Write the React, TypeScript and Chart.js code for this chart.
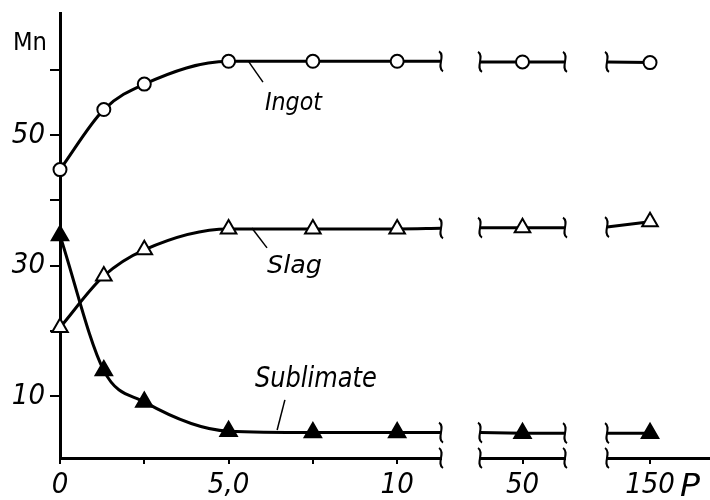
import React, { useEffect, useRef } from 'react';
import { Chart, registerables } from 'chart.js';

Chart.register(...registerables);

// ---- data ----
const P_SEG1 = [0, 1.3, 2.5, 5, 7.5, 10];
const P_SEG2 = [50];
const P_SEG3 = [150];

const INGOT_SEG1 = [44.7, 53.9, 57.8, 61.3, 61.3, 61.3];
const INGOT_SEG2 = [61.2];
const INGOT_SEG3 = [61.1];
const SLAG_SEG1 = [20.5, 28.4, 32.4, 35.6, 35.6, 35.6];
const SLAG_SEG2 = [35.8];
const SLAG_SEG3 = [36.7];
const SUBL_SEG1 = [34.6, 13.9, 9.1, 4.6, 4.4, 4.4];
const SUBL_SEG2 = [4.3];
const SUBL_SEG3 = [4.3];

// curve level where each curve meets the axis breaks: [seg1 end, seg2 start, seg2 end, seg3 start]
const INGOT_BREAKS = [61.3, 61.2, 61.2, 61.2];
const SLAG_BREAKS = [35.7, 35.8, 35.8, 35.9];
const SUBL_BREAKS = [4.4, 4.4, 4.3, 4.3];

// broken x axis: visible value range of each segment
const SEG1_RANGE = [0, 11.3];
const SEG2_RANGE = [43, 57];
const SEG3_RANGE = [143.4, 159.2];

const X1_TICKS = [0, 2.5, 5, 7.5, 10];
const X1_LABELS = ['0', '', '5,0', '', '10'];
const X2_TICKS = [50];
const X2_LABELS = ['50'];
const X3_TICKS = [150];
const X3_LABELS = ['150'];
const Y_TICKS = [10, 20, 30, 40, 50, 60];
const Y_LABELS = ['10', '', '30', '', '50', ''];
const Y_RANGE = [0.5, 68.7];

const FONT = "'Liberation Sans Narrow', 'DejaVu Sans Condensed', 'Liberation Sans', sans-serif";
const INK = '#000';

const SERIES = [
  { name: 'Ingot', s1: INGOT_SEG1, s2: INGOT_SEG2, s3: INGOT_SEG3, br: INGOT_BREAKS, style: 'circle', fill: '#fff', r: 6.5 },
  { name: 'Slag', s1: SLAG_SEG1, s2: SLAG_SEG2, s3: SLAG_SEG3, br: SLAG_BREAKS, style: 'triangle', fill: '#fff', r: 9 },
  { name: 'Sublimate', s1: SUBL_SEG1, s2: SUBL_SEG2, s3: SUBL_SEG3, br: SUBL_BREAKS, style: 'triangle', fill: '#000', r: 9.5 },
];

// annotation labels in data units of x1 / y
const NOTES = [
  { text: 'Ingot', x: 6.08, y: 53.8, w: 57, size: 25, from: [5.6, 61.2], to: [6.02, 58.1] },
  { text: 'Slag', x: 6.14, y: 28.85, w: 55, size: 25, from: [5.69, 35.75], to: [6.14, 32.7] },
  { text: 'Sublimate', x: 5.78, y: 11.4, w: 122, size: 28, from: [6.44, 4.8], to: [6.67, 9.4] },
];

function fitText(ctx: CanvasRenderingContext2D, text: string, x: number, base: number, w: number, font: string) {
  ctx.save();
  ctx.font = font;
  ctx.textBaseline = 'alphabetic';
  ctx.textAlign = 'left';
  const m = ctx.measureText(text).width;
  ctx.translate(x, base);
  ctx.scale(w / m, 1);
  ctx.fillStyle = INK;
  ctx.fillText(text, 0, 0);
  ctx.restore();
}

function squiggle(ctx: CanvasRenderingContext2D, x: number, y: number) {
  ctx.save();
  ctx.strokeStyle = INK;
  ctx.lineWidth = 2;
  ctx.beginPath();
  ctx.moveTo(x - 2, y - 10);
  ctx.bezierCurveTo(x + 5, y - 6, x - 5, y + 6, x + 2, y + 10);
  ctx.stroke();
  ctx.restore();
}

const decorPlugin = {
  id: 'decor',
  afterDraw(chart: any) {
    const ctx = chart.ctx as CanvasRenderingContext2D;
    const { x1, x2, x3, y } = chart.scales;
    const area = chart.chartArea;
    const breakX = [
      x1.getPixelForValue(SEG1_RANGE[1]),
      x2.getPixelForValue(SEG2_RANGE[0]),
      x2.getPixelForValue(SEG2_RANGE[1]),
      x3.getPixelForValue(SEG3_RANGE[0]),
    ];
    SERIES.forEach((s) => {
      s.br.forEach((v, i) => squiggle(ctx, breakX[i], y.getPixelForValue(v)));
    });
    breakX.forEach((bx) => squiggle(ctx, bx, area.bottom));

    NOTES.forEach((n) => {
      ctx.save();
      ctx.strokeStyle = INK;
      ctx.lineWidth = 1.5;
      ctx.beginPath();
      ctx.moveTo(x1.getPixelForValue(n.from[0]), y.getPixelForValue(n.from[1]));
      ctx.lineTo(x1.getPixelForValue(n.to[0]), y.getPixelForValue(n.to[1]));
      ctx.stroke();
      ctx.restore();
      fitText(ctx, n.text, x1.getPixelForValue(n.x), y.getPixelForValue(n.y), n.w, `italic ${n.size}px ${FONT}`);
    });

    fitText(ctx, 'Mn', area.left - 47, area.top + 37, 34, `${25}px ${FONT}`);
    fitText(ctx, 'P', x3.getPixelForValue(X3_TICKS[0]) + 30, area.bottom + 38, 20, `italic ${32}px ${FONT}`);
  },
};

const tickFont = { family: FONT, size: 29, style: 'italic' as const };

function segAxis(range: number[], weight: number, ticks: number[], labels: string[]) {
  return {
    type: 'linear',
    position: 'bottom',
    stack: 'xs',
    stackWeight: weight,
    min: range[0],
    max: range[1],
    afterBuildTicks: (s: any) => { s.ticks = ticks.map((v) => ({ value: v })); },
    afterFit: (s: any) => { s.height = 42; s.paddingLeft = 0; s.paddingRight = 0; },
    grid: { display: true, drawOnChartArea: false, drawTicks: true, tickLength: 6, lineWidth: 2, color: INK },
    border: { display: true, width: 3, color: INK },
    ticks: {
      font: tickFont, color: INK, padding: 4, maxRotation: 0, minRotation: 0, autoSkip: false,
      callback: (_v: any, i: number) => labels[i],
    },
  };
}

function gapAxis(range: number[], weight: number) {
  return {
    type: 'linear',
    position: 'bottom',
    stack: 'xs',
    stackWeight: weight,
    min: range[0],
    max: range[1],
    afterFit: (s: any) => { s.height = 42; s.paddingLeft = 0; s.paddingRight = 0; },
    grid: { display: false },
    border: { display: false },
    ticks: { display: false },
  };
}

export default function App() {
  const ref = useRef<HTMLCanvasElement>(null);
  useEffect(() => {
    if (!ref.current) return;
    const datasets: any[] = [];
    SERIES.forEach((s) => {
      const base = {
        label: s.name,
        borderColor: INK,
        borderWidth: 3,
        pointStyle: s.style,
        pointBackgroundColor: s.fill,
        pointBorderColor: INK,
        pointBorderWidth: 2,
        clip: false,
        yAxisID: 'y',
      };
      datasets.push({
        ...base,
        xAxisID: 'x1',
        cubicInterpolationMode: 'monotone',
        data: [...P_SEG1.map((x, i) => ({ x, y: s.s1[i] })), { x: SEG1_RANGE[1], y: s.br[0] }],
        pointRadius: [...P_SEG1.map(() => s.r), 0],
      });
      datasets.push({
        ...base,
        xAxisID: 'x2',
        tension: 0,
        data: [{ x: SEG2_RANGE[0], y: s.br[1] }, ...P_SEG2.map((x, i) => ({ x, y: s.s2[i] })), { x: SEG2_RANGE[1], y: s.br[2] }],
        pointRadius: [0, ...P_SEG2.map(() => s.r), 0],
      });
      datasets.push({
        ...base,
        xAxisID: 'x3',
        tension: 0,
        data: [{ x: SEG3_RANGE[0], y: s.br[3] }, ...P_SEG3.map((x, i) => ({ x, y: s.s3[i] }))],
        pointRadius: [0, ...P_SEG3.map(() => s.r)],
      });
    });

    const chart = new Chart(ref.current, {
      type: 'line',
      data: { datasets },
      plugins: [decorPlugin],
      options: {
        animation: false,
        responsive: false,
        devicePixelRatio: 1,
        layout: { autoPadding: false, padding: { top: 13, left: 0, right: 0, bottom: 0 } },
        plugins: { legend: { display: false }, tooltip: { enabled: false } },
        scales: {
          x1: segAxis(SEG1_RANGE, 381, X1_TICKS, X1_LABELS),
          gapA: gapAxis([0, 1], 39),
          x2: segAxis(SEG2_RANGE, 85, X2_TICKS, X2_LABELS),
          gapB: gapAxis([0, 1], 42),
          x3: segAxis(SEG3_RANGE, 103, X3_TICKS, X3_LABELS),
          y: {
            type: 'linear',
            position: 'left',
            min: Y_RANGE[0],
            max: Y_RANGE[1],
            afterBuildTicks: (s: any) => { s.ticks = Y_TICKS.map((v) => ({ value: v })); },
            afterFit: (s: any) => { s.width = 60; s.paddingTop = 0; s.paddingBottom = 0; },
            grid: { display: true, drawOnChartArea: false, drawTicks: true, tickLength: 10, lineWidth: 2, color: INK },
            border: { display: true, width: 3, color: INK },
            ticks: {
              font: tickFont, color: INK, padding: 5, autoSkip: false,
              callback: (_v: any, i: number) => Y_LABELS[i],
            },
          },
        } as any,
      },
    } as any);
    return () => chart.destroy();
  }, []);

  return (
    <div style={{ position: 'absolute', left: 0, top: 0, width: 710, height: 500, background: '#fff' }}>
      <canvas ref={ref} width={710} height={500} style={{ display: 'block' }} />
    </div>
  );
}
